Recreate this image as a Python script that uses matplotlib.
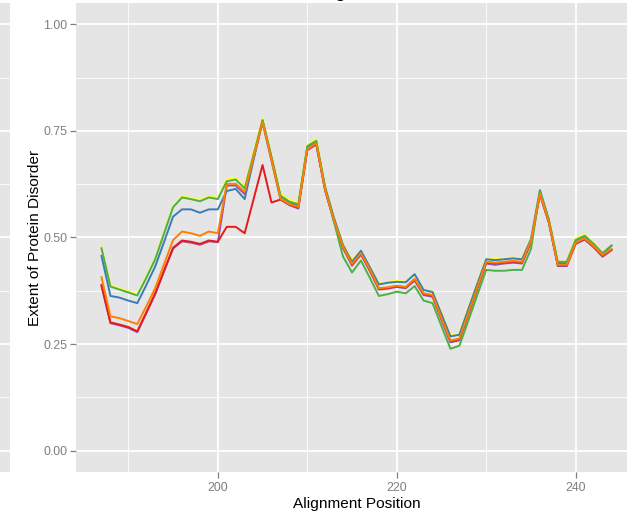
import matplotlib
matplotlib.use("Agg")
import matplotlib.pyplot as plt
from matplotlib.ticker import FixedLocator, FormatStrFormatter

plt.rcParams['font.family'] = ['Liberation Sans', 'DejaVu Sans']

positions = list(range(187, 245))

red = [0.389, 0.301, 0.296, 0.290, 0.280, 0.324, 0.369, 0.423, 0.476, 0.493,
       0.490, 0.485, 0.493, 0.490, 0.525, 0.525, 0.510, 0.590, 0.670, 0.582,
       0.589, 0.577, 0.571, 0.706, 0.720, 0.611, 0.539, 0.477, 0.437, 0.462,
       0.424, 0.380, 0.382, 0.386, 0.383, 0.402, 0.368, 0.364, 0.310, 0.257,
       0.262, 0.322, 0.382, 0.442, 0.440, 0.442, 0.444, 0.442, 0.491, 0.602,
       0.536, 0.435, 0.435, 0.487, 0.497, 0.479, 0.458, 0.472]
blue = [0.457, 0.363, 0.359, 0.352, 0.346, 0.388, 0.432, 0.490, 0.549, 0.566,
        0.566, 0.558, 0.566, 0.566, 0.609, 0.614, 0.590, 0.683, 0.775, 0.688,
        0.597, 0.583, 0.575, 0.712, 0.725, 0.618, 0.545, 0.482, 0.443, 0.469,
        0.430, 0.390, 0.394, 0.396, 0.395, 0.414, 0.377, 0.372, 0.320, 0.268,
        0.272, 0.332, 0.391, 0.449, 0.447, 0.449, 0.451, 0.449, 0.496, 0.611,
        0.542, 0.440, 0.440, 0.493, 0.503, 0.484, 0.462, 0.481]
green = [0.475, 0.385, 0.378, 0.371, 0.364, 0.405, 0.449, 0.510, 0.571, 0.594,
         0.590, 0.585, 0.594, 0.590, 0.632, 0.636, 0.615, 0.695, 0.775, 0.688,
         0.598, 0.584, 0.578, 0.714, 0.727, 0.615, 0.535, 0.455, 0.418, 0.446,
         0.405, 0.363, 0.367, 0.373, 0.369, 0.386, 0.352, 0.346, 0.292, 0.239,
         0.246, 0.305, 0.365, 0.424, 0.422, 0.422, 0.424, 0.424, 0.473, 0.608,
         0.540, 0.443, 0.443, 0.494, 0.504, 0.485, 0.463, 0.481]
purple = [0.386, 0.299, 0.294, 0.288, 0.278, 0.322, 0.367, 0.421, 0.474, 0.491,
          0.488, 0.483, 0.491, 0.489, 0.622, 0.622, 0.602, 0.686, 0.769, 0.680,
          0.590, 0.576, 0.568, 0.705, 0.718, 0.610, 0.537, 0.475, 0.434, 0.460,
          0.421, 0.378, 0.380, 0.384, 0.381, 0.399, 0.365, 0.361, 0.307, 0.254,
          0.259, 0.319, 0.379, 0.439, 0.436, 0.439, 0.441, 0.439, 0.488, 0.601,
          0.534, 0.433, 0.433, 0.485, 0.495, 0.477, 0.455, 0.470]
orange = [0.407, 0.315, 0.311, 0.304, 0.297, 0.338, 0.381, 0.438, 0.494, 0.514,
          0.510, 0.504, 0.514, 0.510, 0.626, 0.626, 0.607, 0.689, 0.771, 0.682,
          0.591, 0.578, 0.572, 0.707, 0.721, 0.612, 0.540, 0.478, 0.438, 0.463,
          0.425, 0.381, 0.383, 0.387, 0.384, 0.403, 0.369, 0.365, 0.311, 0.258,
          0.263, 0.323, 0.383, 0.443, 0.441, 0.443, 0.445, 0.443, 0.492, 0.603,
          0.537, 0.436, 0.436, 0.488, 0.498, 0.480, 0.459, 0.473]
yellow = [0.478, 0.388, 0.381, 0.374, 0.367, 0.408, 0.452, 0.513, 0.574, 0.597,
          0.593, 0.588, 0.597, 0.593, 0.636, 0.640, 0.619, 0.699, 0.779, 0.692,
          0.603, 0.588, 0.582, 0.717, 0.731, 0.620, 0.545, 0.484, 0.447, 0.468,
          0.430, 0.392, 0.396, 0.399, 0.396, 0.412, 0.377, 0.373, 0.322, 0.271,
          0.275, 0.335, 0.393, 0.452, 0.451, 0.452, 0.453, 0.452, 0.497, 0.609,
          0.543, 0.443, 0.444, 0.498, 0.507, 0.487, 0.465, 0.480]

x_ticks = [200, 220, 240]
y_ticks = [0.00, 0.25, 0.50, 0.75, 1.00]

series = [
    (purple, '#984EA3'),
    (red, '#E41A1C'),
    (yellow, '#FFFF33'),
    (blue, '#377EB8'),
    (green, '#4DAF4A'),
    (orange, '#FF7F00'),
]

W, H = 627, 514
fig = plt.figure(figsize=(W / 100, H / 100), dpi=100)
fig.patch.set_facecolor('white')

left_px, right_px, top_px, bottom_px = 76, 637, 3, 472
ax = fig.add_axes([left_px / W, 1 - bottom_px / H,
                   (right_px - left_px) / W, (bottom_px - top_px) / H])

def style_panel(a):
    a.set_facecolor('#E5E5E5')
    for s in a.spines.values():
        s.set_visible(False)
    a.set_ylim(-0.05, 1.05)
    a.yaxis.set_major_locator(FixedLocator(y_ticks))
    a.yaxis.set_minor_locator(FixedLocator([0.125, 0.375, 0.625, 0.875]))
    a.grid(which='major', color='white', linewidth=1.3)
    a.grid(which='minor', color='white', linewidth=0.6)
    a.set_axisbelow(True)

style_panel(ax)
ax.set_xlim(184.15, 246.85)
ax.xaxis.set_major_locator(FixedLocator(x_ticks))
ax.xaxis.set_minor_locator(FixedLocator([190, 210, 230, 250]))
ax.yaxis.set_major_formatter(FormatStrFormatter('%.2f'))

for vals, col in series:
    ax.plot(positions, vals, color=col, linewidth=1.4, solid_joinstyle='round')

ax.tick_params(axis='both', which='major', colors='#7F7F7F', labelcolor='#7F7F7F',
               length=4.2, width=0.9, labelsize=8.9, direction='out')
ax.tick_params(axis='x', pad=3)
ax.tick_params(axis='y', pad=2)
ax.tick_params(which='minor', length=0)

ax.set_xlabel('Alignment Position', fontsize=11.1, color='black', labelpad=2)
ax.set_ylabel('Extent of Protein Disorder', fontsize=11.1, color='black', labelpad=1)

# neighbouring panel strip on the far left
ax2 = fig.add_axes([-0.2, 1 - bottom_px / H, 0.2 + 10 / W, (bottom_px - top_px) / H])
style_panel(ax2)
ax2.set_xticks([])
ax2.tick_params(axis='y', length=0, labelleft=False)

# descender of the cut-off title
fig.text(339.5 / W, 1 + 3 / H, 'g', ha='center', va='baseline', fontsize=14, color='black')

fig.savefig('out.png', dpi=100)
